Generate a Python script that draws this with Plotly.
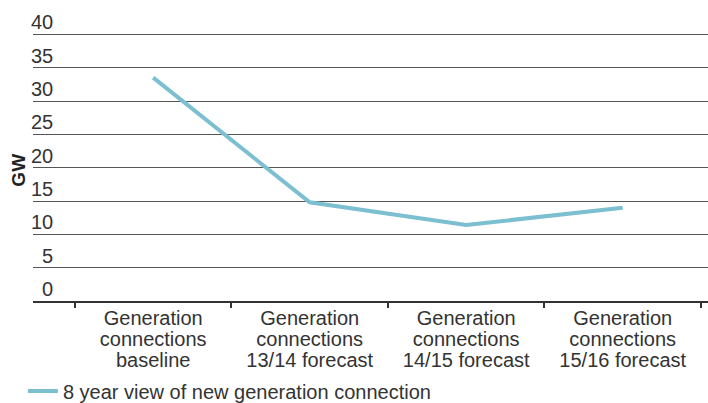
import plotly.graph_objects as go

# Category names, one per forecast point
categories = [
    "Generation connections baseline",
    "Generation connections 13/14 forecast",
    "Generation connections 14/15 forecast",
    "Generation connections 15/16 forecast",
]
# Tick label lines shown under each category
label_line1 = ["Generation", "Generation", "Generation", "Generation"]
label_line2 = ["connections", "connections", "connections", "connections"]
label_line3 = ["baseline", "13/14 forecast", "14/15 forecast", "15/16 forecast"]

# Series values (GW)
series_name = "8 year view of new generation connection"
gw_values = [33.5, 14.8, 11.4, 14.0]

# Y-axis ticks
y_ticks = [0, 5, 10, 15, 20, 25, 30, 35, 40]
y_tick_text = [str(v).rjust(2, "\u2007") for v in y_ticks]

FONT = "Liberation Sans, Arial, sans-serif"
TEXT = "#333333"
LINE = "#7bbfd1"
X_RANGE = [-0.768, 3.545]
positions = list(range(len(categories)))

fig = go.Figure()
fig.add_trace(go.Scatter(
    x=categories, y=gw_values, mode="lines", name=series_name,
    line=dict(color=LINE, width=4),
))

# One overlaid axis per label line so the line spacing stays tight
for i, (lines, standoff) in enumerate(zip([label_line1, label_line2, label_line3], [3, 24, 45])):
    axis_id = i + 2
    fig.add_trace(go.Scatter(
        x=positions, y=gw_values, xaxis=f"x{axis_id}", mode="lines",
        line=dict(width=0, color="rgba(0,0,0,0)"), showlegend=False,
        hoverinfo="skip",
    ))
    fig.update_layout({f"xaxis{axis_id}": dict(
        overlaying="x", anchor="y", side="bottom", range=X_RANGE,
        tickmode="array", tickvals=positions, ticktext=lines,
        ticks="", showline=False, showgrid=False, zeroline=False,
        ticklabelstandoff=standoff, tickfont=dict(size=20, color=TEXT),
        fixedrange=True,
    )})

fig.update_layout(
    width=708, height=403,
    margin=dict(l=33, r=0, t=1, b=102),
    paper_bgcolor="white", plot_bgcolor="white",
    font=dict(family=FONT, size=20, color=TEXT),
    showlegend=True,
    legend=dict(
        orientation="h", xref="paper", x=-0.015, xanchor="left",
        yref="container", y=0.03, yanchor="middle",
        font=dict(size=20, color=TEXT), bgcolor="rgba(0,0,0,0)", itemwidth=30,
    ),
    xaxis=dict(
        type="category", range=X_RANGE, tickson="boundaries",
        ticks="outside", ticklen=5, tickwidth=2, tickcolor="#333333",
        showline=True, linecolor="#333333", linewidth=2,
        showgrid=False, showticklabels=False, fixedrange=True,
    ),
    yaxis=dict(
        range=[0, 45], tickmode="array", tickvals=y_ticks, ticktext=y_tick_text,
        ticklabelposition="inside top", ticks="",
        ticklabelstandoff=-5, ticklabelshift=2,
        showgrid=True, gridcolor="#555555", gridwidth=1,
        zeroline=False, showline=False, fixedrange=True,
        tickfont=dict(size=20, color=TEXT),
    ),
    annotations=[dict(
        text="<b>GW</b>", xref="paper", yref="paper",
        x=-0.022, y=0.435, xanchor="center", yanchor="middle",
        textangle=-90, showarrow=False,
        font=dict(size=19, color="#222222"),
    )],
)

fig.write_html("out.html")
